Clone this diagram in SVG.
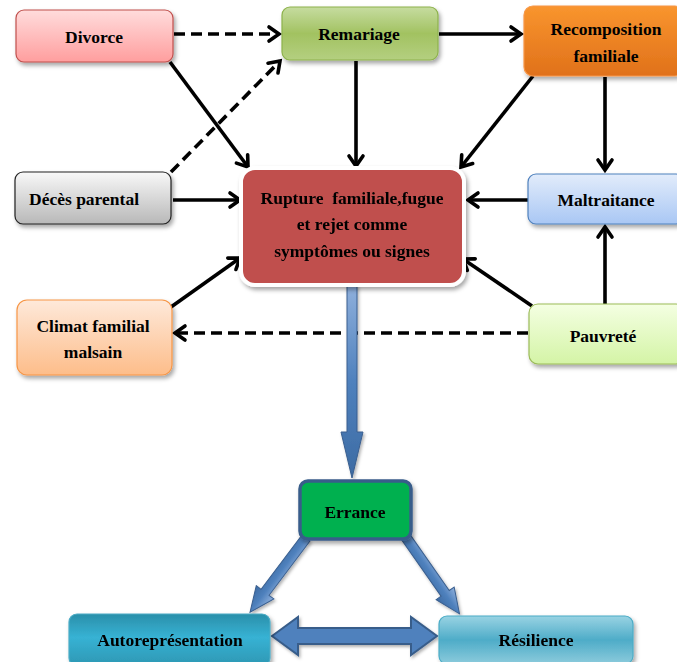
<svg xmlns="http://www.w3.org/2000/svg" width="677" height="662" viewBox="0 0 677 662">
<defs>
<style>
text{font-family:"Liberation Serif","Times New Roman",serif;font-weight:bold;font-size:17.5px;fill:#000;text-anchor:middle}
.c{fill:none;stroke:#000;stroke-width:3.6}
.d{stroke-dasharray:11 6}
.blk{fill:url(#gBlue);stroke:#3a5f8f;stroke-width:1}
</style>
<filter id="sh" x="-10%" y="-10%" width="125%" height="130%"><feDropShadow dx="2" dy="3" stdDeviation="2" flood-color="#000" flood-opacity="0.35"/></filter>
<filter id="shl" x="-10%" y="-10%" width="125%" height="130%"><feDropShadow dx="1.5" dy="2" stdDeviation="1.5" flood-color="#000" flood-opacity="0.3"/></filter>
<marker id="ah" viewBox="0 0 16 16" refX="14" refY="8" markerWidth="16" markerHeight="16" orient="auto" markerUnits="userSpaceOnUse" overflow="visible">
<path d="M4,1 L14,8 L4,15" fill="none" stroke="#000" stroke-width="3.6" stroke-linecap="round" stroke-linejoin="miter"/>
</marker>
<linearGradient id="gPink" x1="0" y1="0" x2="0" y2="1"><stop offset="0" stop-color="#ffdcdc"/><stop offset="1" stop-color="#ff9e9e"/></linearGradient>
<linearGradient id="gGreen" x1="0" y1="0" x2="0" y2="1"><stop offset="0" stop-color="#c6dca0"/><stop offset="0.5" stop-color="#a2c261"/><stop offset="1" stop-color="#b4cf80"/></linearGradient>
<linearGradient id="gOrange" x1="0" y1="0" x2="0" y2="1"><stop offset="0" stop-color="#f9952e"/><stop offset="1" stop-color="#e0711a"/></linearGradient>
<linearGradient id="gGray" x1="0" y1="0" x2="0" y2="1"><stop offset="0" stop-color="#f8f8f8"/><stop offset="1" stop-color="#b8b8b8"/></linearGradient>
<linearGradient id="gLBlue" x1="0" y1="0" x2="0" y2="1"><stop offset="0" stop-color="#e2ecfb"/><stop offset="1" stop-color="#a9c7f4"/></linearGradient>
<linearGradient id="gPeach" x1="0" y1="0" x2="0" y2="1"><stop offset="0" stop-color="#fee9da"/><stop offset="1" stop-color="#fdbd8a"/></linearGradient>
<linearGradient id="gLGreen" x1="0" y1="0" x2="0" y2="1"><stop offset="0" stop-color="#f4ffe2"/><stop offset="1" stop-color="#d4f4a6"/></linearGradient>
<linearGradient id="gTeal" x1="0" y1="0" x2="0" y2="1"><stop offset="0" stop-color="#2a8faa"/><stop offset="0.45" stop-color="#37b2d4"/><stop offset="1" stop-color="#2d97b3"/></linearGradient>
<linearGradient id="gTeal2" x1="0" y1="0" x2="0" y2="1"><stop offset="0" stop-color="#99d3e3"/><stop offset="0.5" stop-color="#4eacc8"/><stop offset="1" stop-color="#8ccbdc"/></linearGradient>
<linearGradient id="gBlue" x1="0" y1="0" x2="0" y2="1"><stop offset="0" stop-color="#8fb0dc"/><stop offset="0.5" stop-color="#4f81bd"/><stop offset="1" stop-color="#3d6ba3"/></linearGradient>
</defs>

<g id="connectors">
<line class="c d" x1="174" y1="34" x2="279" y2="34" marker-end="url(#ah)"/>
<line class="c" x1="439" y1="34" x2="521" y2="34" marker-end="url(#ah)"/>
<line class="c" x1="170" y1="62" x2="248" y2="167" marker-end="url(#ah)"/>
<line class="c d" x1="171" y1="172" x2="280" y2="61" marker-end="url(#ah)"/>
<line class="c" x1="356" y1="61" x2="356" y2="166" marker-end="url(#ah)"/>
<line class="c" x1="533" y1="76" x2="461" y2="167" marker-end="url(#ah)"/>
<line class="c" x1="605" y1="77" x2="605" y2="170" marker-end="url(#ah)"/>
<line class="c" x1="173" y1="200" x2="240" y2="200" marker-end="url(#ah)"/>
<line class="c" x1="528" y1="200" x2="468" y2="200" marker-end="url(#ah)"/>
<line class="c" x1="171" y1="307" x2="240" y2="258" marker-end="url(#ah)"/>
<line class="c" x1="532" y1="306" x2="463" y2="259" marker-end="url(#ah)"/>
<line class="c" x1="605" y1="304" x2="605" y2="227" marker-end="url(#ah)"/>
<line class="c d" x1="528" y1="333" x2="175" y2="333" marker-end="url(#ah)"/>
<g filter="url(#shl)">
<path class="blk" d="M347,285 L357,285 L357,432 L363,432 L352,478 L341,432 L347,432 Z"/>
<path class="blk" transform="translate(306,538) rotate(127)" d="M0,-5 L68,-5 L68,-11 L93,0 L68,11 L68,5 L0,5 Z"/>
<path class="blk" transform="translate(405,536) rotate(55)" d="M0,-5 L70,-5 L70,-11 L95,0 L70,11 L70,5 L0,5 Z"/>
<path d="M272,636 L298,617 L298,628 L411,628 L411,617 L437,636 L411,655 L411,644 L298,644 L298,655 Z" fill="#4f81bd" stroke="#385d8a" stroke-width="2"/>
</g>
</g>

<g id="divorce">
<rect x="16" y="10" width="157" height="52" rx="8" fill="url(#gPink)" stroke="#c0504d" stroke-width="1.2" filter="url(#sh)"/>
<text x="94" y="43">Divorce</text>
</g>
<g id="remariage">
<rect x="282" y="7" width="156" height="53" rx="8" fill="url(#gGreen)" stroke="#8db24c" stroke-width="1.2" filter="url(#sh)"/>
<text x="359" y="40">Remariage</text>
</g>
<g id="recomposition">
<rect x="524" y="6" width="160" height="70" rx="9" fill="url(#gOrange)" stroke="#f79646" stroke-width="1.2" filter="url(#sh)"/>
<text x="606" y="35">Recomposition</text>
<text x="606" y="62">familiale</text>
</g>
<g id="deces">
<rect x="15" y="172" width="156" height="52" rx="8" fill="url(#gGray)" stroke="#222" stroke-width="1.2" filter="url(#sh)"/>
<text x="84" y="205">Décès parental</text>
</g>
<g id="rupture">
<rect x="241" y="168" width="223" height="117" rx="14" fill="#c0504d" stroke="#fff" stroke-width="4" filter="url(#sh)"/>
<text x="352" y="204" xml:space="preserve">Rupture  familiale,fugue</text>
<text x="352" y="230">et rejet comme</text>
<text x="352" y="257">symptômes ou signes</text>
</g>
<g id="maltraitance">
<rect x="528" y="174" width="156" height="50" rx="8" fill="url(#gLBlue)" stroke="#4f81bd" stroke-width="1.2" filter="url(#sh)"/>
<text x="606" y="206">Maltraitance</text>
</g>
<g id="climat">
<rect x="17" y="300" width="155" height="75" rx="10" fill="url(#gPeach)" stroke="#f79646" stroke-width="1.2" filter="url(#sh)"/>
<text x="93" y="332">Climat familial</text>
<text x="93" y="358">malsain</text>
</g>
<g id="pauvrete">
<rect x="529" y="304" width="156" height="60" rx="9" fill="url(#gLGreen)" stroke="#9bbb59" stroke-width="1.2" filter="url(#sh)"/>
<text x="603" y="342">Pauvreté</text>
</g>
<g id="errance">
<rect x="300" y="481" width="111" height="58" rx="8" fill="#00b050" stroke="#385d8a" stroke-width="3.5" filter="url(#sh)"/>
<text x="355" y="518">Errance</text>
</g>
<g id="autorepresentation">
<rect x="69" y="614" width="201" height="52" rx="8" fill="url(#gTeal)" stroke="#4bacc6" stroke-width="1.2" filter="url(#sh)"/>
<text x="170" y="646">Autoreprésentation</text>
</g>
<g id="resilience">
<rect x="439" y="616" width="194" height="48" rx="8" fill="url(#gTeal2)" stroke="#4bacc6" stroke-width="1.2" filter="url(#sh)"/>
<text x="536" y="646">Résilience</text>
</g>
</svg>
